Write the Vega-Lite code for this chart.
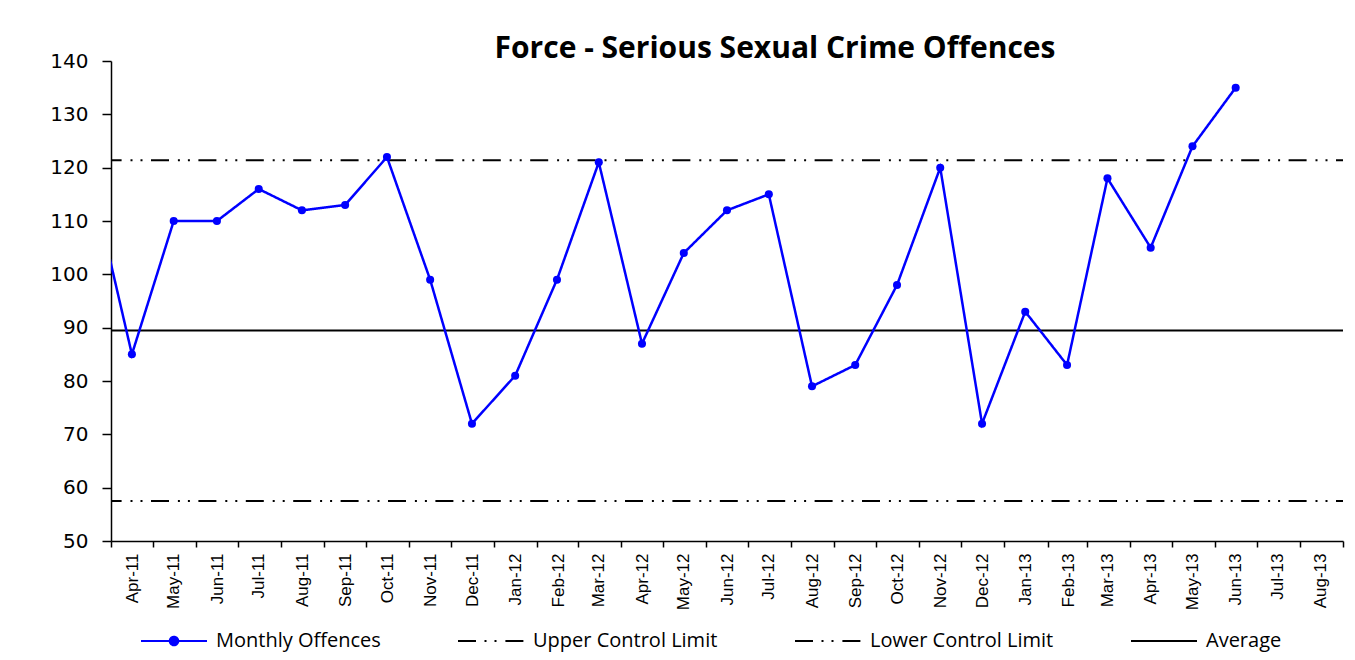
{
  "$schema": "https://vega.github.io/schema/vega-lite/v6.json",
  "autosize": {"type": "none"},
  "width": 1232,
  "height": 480,
  "padding": {"left": 111, "top": 61, "right": 12, "bottom": 119},
  "background": "white",
  "config": {"view": {"stroke": null}},
  "title": {
    "text": "Force - Serious Sexual Crime Offences",
    "font": "Open Sans",
    "fontSize": 30,
    "fontWeight": "bold",
    "color": "black",
    "anchor": "middle",
    "dx": 48,
    "offset": -13
  },
  "datasets": {
    "monthly": [
      {"month": "2011-03-16", "series": "Monthly Offences", "offences": 120},
      {"month": "2011-04-16", "series": "Monthly Offences", "offences": 85},
      {"month": "2011-05-16", "series": "Monthly Offences", "offences": 110},
      {"month": "2011-06-16", "series": "Monthly Offences", "offences": 110},
      {"month": "2011-07-16", "series": "Monthly Offences", "offences": 116},
      {"month": "2011-08-16", "series": "Monthly Offences", "offences": 112},
      {"month": "2011-09-16", "series": "Monthly Offences", "offences": 113},
      {"month": "2011-10-16", "series": "Monthly Offences", "offences": 122},
      {"month": "2011-11-16", "series": "Monthly Offences", "offences": 99},
      {"month": "2011-12-16", "series": "Monthly Offences", "offences": 72},
      {"month": "2012-01-16", "series": "Monthly Offences", "offences": 81},
      {"month": "2012-02-15", "series": "Monthly Offences", "offences": 99},
      {"month": "2012-03-16", "series": "Monthly Offences", "offences": 121},
      {"month": "2012-04-16", "series": "Monthly Offences", "offences": 87},
      {"month": "2012-05-16", "series": "Monthly Offences", "offences": 104},
      {"month": "2012-06-16", "series": "Monthly Offences", "offences": 112},
      {"month": "2012-07-16", "series": "Monthly Offences", "offences": 115},
      {"month": "2012-08-16", "series": "Monthly Offences", "offences": 79},
      {"month": "2012-09-16", "series": "Monthly Offences", "offences": 83},
      {"month": "2012-10-16", "series": "Monthly Offences", "offences": 98},
      {"month": "2012-11-16", "series": "Monthly Offences", "offences": 120},
      {"month": "2012-12-16", "series": "Monthly Offences", "offences": 72},
      {"month": "2013-01-16", "series": "Monthly Offences", "offences": 93},
      {"month": "2013-02-15", "series": "Monthly Offences", "offences": 83},
      {"month": "2013-03-16", "series": "Monthly Offences", "offences": 118},
      {"month": "2013-04-16", "series": "Monthly Offences", "offences": 105},
      {"month": "2013-05-16", "series": "Monthly Offences", "offences": 124},
      {"month": "2013-06-16", "series": "Monthly Offences", "offences": 135}
    ],
    "limits": [
      {"series": "Upper Control Limit", "value": 121.4},
      {"series": "Lower Control Limit", "value": 57.5},
      {"series": "Average", "value": 89.45}
    ]
  },
  "layer": [
    {
      "data": {"name": "limits"},
      "mark": {"type": "rule", "strokeWidth": 2, "strokeDashOffset": 11},
      "encoding": {
        "y": {"field": "value", "type": "quantitative", "scale": {"domain": [50, 140], "nice": false}},
        "color": {"field": "series", "type": "nominal"},
        "strokeDash": {"field": "series", "type": "nominal"}
      }
    },
    {
      "data": {"name": "monthly"},
      "mark": {"type": "line", "strokeWidth": 2.5, "clip": true},
      "encoding": {
        "x": {"field": "month", "type": "temporal"},
        "y": {"field": "offences", "type": "quantitative"},
        "color": {"field": "series", "type": "nominal"},
        "strokeDash": {"field": "series", "type": "nominal"}
      }
    },
    {
      "data": {"name": "monthly"},
      "mark": {"type": "point", "filled": true, "opacity": 1, "size": 65, "clip": true},
      "encoding": {
        "x": {"field": "month", "type": "temporal"},
        "y": {"field": "offences", "type": "quantitative"},
        "color": {"field": "series", "type": "nominal"}
      }
    }
  ],
  "encoding": {
    "x": {
      "type": "temporal",
      "scale": {
        "type": "utc",
        "nice": false,
        "domain": [
          {"year": 2011, "month": 4, "date": 1, "utc": true},
          {"year": 2013, "month": 9, "date": 1, "utc": true}
        ]
      },
      "axis": {
        "title": null,
        "grid": false,
        "tickCount": {"interval": "month", "step": 1},
        "labelExpr": "datum.value >= utc(2013,8,1) ? '' : utcFormat(datum.value, '%b-%y')",
        "labelAngle": -90,
        "labelOffset": 21,
        "labelPadding": 6,
        "labelOverlap": false,
        "labelBound": false,
        "labelFlush": false,
        "labelFont": "Liberation Sans",
        "labelFontSize": 17,
        "labelColor": "black",
        "tickSize": 6,
        "tickColor": "black",
        "tickWidth": 1.5,
        "domainColor": "black",
        "domainWidth": 1.5
      }
    },
    "y": {
      "type": "quantitative",
      "scale": {"domain": [50, 140], "nice": false},
      "axis": {
        "title": null,
        "grid": false,
        "values": [50, 60, 70, 80, 90, 100, 110, 120, 130, 140],
        "labelFont": "DejaVu Sans",
        "labelFontSize": 20,
        "labelColor": "black",
        "labelPadding": 14,
        "tickSize": 9,
        "tickColor": "black",
        "tickWidth": 1.5,
        "domainColor": "black",
        "domainWidth": 1.5
      }
    },
    "color": {
      "field": "series",
      "type": "nominal",
      "scale": {
        "domain": ["Monthly Offences", "Upper Control Limit", "Lower Control Limit", "Average"],
        "range": ["#0000ff", "#000000", "#000000", "#000000"]
      },
      "legend": {
        "title": null,
        "orient": "none",
        "direction": "horizontal",
        "columns": 4,
        "legendX": 29,
        "legendY": 546,
        "padding": 0,
        "symbolType": "stroke",
        "symbolSize": 4356,
        "symbolStrokeWidth": 2,
        "labelFont": "Open Sans",
        "labelFontSize": 20,
        "labelColor": "black",
        "labelOffset": 8,
        "columnPadding": 73,
        "labelLimit": 400,
        "encode": {
          "symbols": {
            "update": {
              "shape": {"signal": "datum.value === 'Monthly Offences' ? 'M-1,0H1M-0.13,0A0.13,0.13 0 1,0 0.13,0A0.13,0.13 0 1,0 -0.13,0' : 'stroke'"},
              "fill": {"signal": "datum.value === 'Monthly Offences' ? '#0000ff' : 'transparent'"}
            }
          }
        }
      }
    },
    "strokeDash": {
      "field": "series",
      "type": "nominal",
      "scale": {
        "domain": ["Monthly Offences", "Upper Control Limit", "Lower Control Limit", "Average"],
        "range": [[1, 0], [18, 8.5, 2, 8, 2, 8.9], [18, 8.5, 2, 8, 2, 8.9], [1, 0]]
      },
      "legend": null
    }
  }
}
